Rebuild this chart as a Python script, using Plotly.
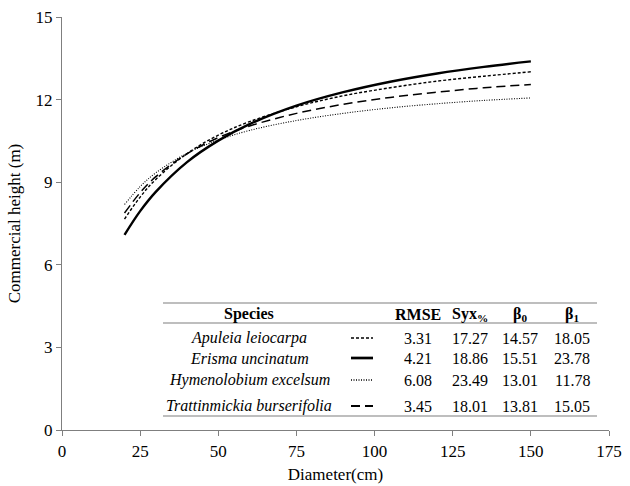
import plotly.graph_objects as go

# Diameter classes (cm) at which heights were read
diameter = [20, 25, 30, 40, 50, 60, 75, 90, 105, 120, 135, 150]

# Commercial height (m) per species
h_apuleia = [7.66, 8.46, 9.10, 10.04, 10.71, 11.20, 11.74, 12.14, 12.43, 12.67, 12.85, 13.01]
h_erisma = [7.09, 7.95, 8.65, 9.73, 10.51, 11.11, 11.78, 12.27, 12.65, 12.95, 13.19, 13.39]
h_hymeno = [8.19, 8.84, 9.34, 10.05, 10.53, 10.88, 11.24, 11.50, 11.70, 11.85, 11.97, 12.06]
h_tratt = [7.88, 8.62, 9.20, 10.03, 10.62, 11.04, 11.50, 11.83, 12.08, 12.27, 12.43, 12.55]

species = ["Apuleia leiocarpa", "Erisma uncinatum",
           "Hymenolobium excelsum", "Trattinmickia burserifolia"]
rmse = ["3.31", "4.21", "6.08", "3.45"]
syx = ["17.27", "18.86", "23.49", "18.01"]
beta0 = ["14.57", "15.51", "13.01", "13.81"]
beta1 = ["18.05", "23.78", "11.78", "15.05"]

x_ticks = [0, 25, 50, 75, 100, 125, 150, 175]
y_ticks = [0, 3, 6, 9, 12, 15]

heights = [h_apuleia, h_erisma, h_hymeno, h_tratt]
dashes = ["3px,2px", "solid", "1px,1.5px", "9px,5px"]
widths = [1.4, 2.4, 1.1, 1.5]

W, H = 630, 486
L, R, T, B = 62, 21, 17, 56
FONT = "Times New Roman"
GRAY = "#7f7f7f"


def px(x):
    return (x - L) / (W - L - R)


def py(y):
    return (H - B - y) / (H - T - B)


fig = go.Figure()
for name, h, d, w in zip(species, heights, dashes, widths):
    fig.add_trace(go.Scatter(
        x=diameter, y=h, mode="lines", name=name, line_shape="spline",
        line=dict(color="black", width=w, dash=d), showlegend=False))

shapes = []
annotations = []

# Table rules
for yy in (303, 323, 416):
    shapes.append(dict(type="line", xref="paper", yref="paper",
                       x0=px(163), x1=px(597), y0=py(yy), y1=py(yy),
                       line=dict(color=GRAY, width=1.2)))

# Header row
headers = [("<b>Species</b>", 249), ("<b>RMSE</b>", 418),
           ("<b>Syx<sub>%</sub></b>", 470), ("<b>β<sub>0</sub></b>", 520),
           ("<b>β<sub>1</sub></b>", 572)]
for txt, xx in headers:
    annotations.append(dict(text=txt, x=px(xx), y=py(314), xref="paper", yref="paper",
                            showarrow=False, xanchor="center", yanchor="middle",
                            font=dict(family=FONT, size=16, color="black")))

row_y = [338, 358, 380, 406]
for i, yy in enumerate(row_y):
    annotations.append(dict(text="<i>%s</i>" % species[i], x=px(249), y=py(yy),
                            xref="paper", yref="paper", showarrow=False,
                            xanchor="center", yanchor="middle",
                            font=dict(family=FONT, size=16, color="black")))
    for val, xx in ((rmse[i], 418), (syx[i], 470), (beta0[i], 520), (beta1[i], 572)):
        annotations.append(dict(text=val, x=px(xx), y=py(yy), xref="paper", yref="paper",
                                showarrow=False, xanchor="center", yanchor="middle",
                                font=dict(family=FONT, size=16, color="black")))
    shapes.append(dict(type="line", xref="paper", yref="paper",
                       x0=px(351), x1=px(373), y0=py(yy), y1=py(yy),
                       line=dict(color="black", width=widths[i] + 0.3, dash=dashes[i])))

fig.update_layout(
    width=W, height=H,
    margin=dict(l=L, r=R, t=T, b=B),
    paper_bgcolor="white", plot_bgcolor="white",
    font=dict(family=FONT, size=16, color="black"),
    shapes=shapes, annotations=annotations,
    xaxis=dict(range=[0, 175], tickvals=x_ticks, showgrid=False, zeroline=False,
               showline=True, linecolor=GRAY, linewidth=1.2, ticks="outside",
               tickcolor=GRAY, ticklen=5, tickfont=dict(family=FONT, size=17),
               automargin=False,
               title=dict(text="Diameter(cm)", font=dict(family=FONT, size=17), standoff=8)),
    yaxis=dict(range=[0, 15], tickvals=y_ticks, showgrid=False, zeroline=False,
               showline=True, linecolor=GRAY, linewidth=1.2, ticks="outside",
               tickcolor=GRAY, ticklen=5, tickfont=dict(family=FONT, size=17),
               automargin=False,
               title=dict(text="Commercial height (m)", font=dict(family=FONT, size=17),
                          standoff=10)),
)

fig.write_html("out.html")
